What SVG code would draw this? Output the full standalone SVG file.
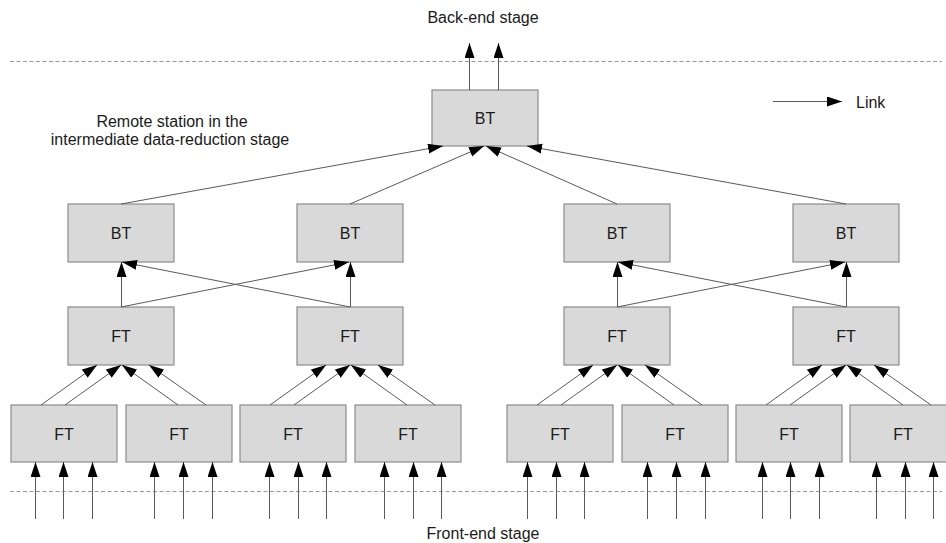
<svg xmlns="http://www.w3.org/2000/svg" width="946" height="543" viewBox="0 0 946 543">
  <style>
    .box { fill: #d9d9d9; stroke: #8c8c8c; stroke-width: 1.2; }
    .lbl { font-family: "Liberation Sans", Arial, sans-serif; font-size: 16px; fill: #1a1a1a; text-anchor: middle; }
    .txt { font-family: "Liberation Sans", Arial, sans-serif; font-size: 16px; fill: #1a1a1a; }
    .link { stroke: #5a5a5a; stroke-width: 1; fill: none; marker-end: url(#head); }
    .stage { stroke: #9a9a9a; stroke-width: 1; stroke-dasharray: 4 2.5; fill: none; }
  </style>
  <defs>
    <marker id="head" markerUnits="userSpaceOnUse" markerWidth="16" markerHeight="11" refX="15" refY="5" orient="auto">
      <path d="M0,0 L15,5 L0,10 z" fill="#000"/>
    </marker>
  </defs>
  <rect width="946" height="543" fill="#fff"/>

  <!-- stage boundaries -->
  <line class="stage" x1="10" y1="61.5" x2="942" y2="61.5"/>
  <line class="stage" x1="10" y1="491.5" x2="942" y2="491.5"/>

  <text class="lbl" x="483" y="23">Back-end stage</text>
  <text class="lbl" x="483" y="539">Front-end stage</text>
  <text class="lbl" x="172" y="127">Remote station in the</text>
  <text class="lbl" x="170" y="145">intermediate data-reduction stage</text>

  <!-- legend -->
  <g id="legend">
    <line class="link" x1="773" y1="101.5" x2="842" y2="101.5"/>
    <text class="txt" x="856" y="108">Link</text>
  </g>

  <!-- back-end root -->
  <g id="bt-root"><rect class="box" x="432" y="90" width="106" height="56"/><text class="lbl" x="485" y="124">BT</text></g>

  <!-- intermediate BT row -->
  <g id="bt-1"><rect class="box" x="68" y="204" width="106" height="58"/><text class="lbl" x="121" y="239">BT</text></g>
  <g id="bt-2"><rect class="box" x="297" y="204" width="106" height="58"/><text class="lbl" x="350" y="239">BT</text></g>
  <g id="bt-3"><rect class="box" x="564" y="204" width="106" height="58"/><text class="lbl" x="617" y="239">BT</text></g>
  <g id="bt-4"><rect class="box" x="793" y="204" width="106" height="58"/><text class="lbl" x="846" y="239">BT</text></g>

  <!-- intermediate FT row -->
  <g id="ft-a"><rect class="box" x="68" y="307" width="106" height="58"/><text class="lbl" x="121" y="342">FT</text></g>
  <g id="ft-b"><rect class="box" x="297" y="307" width="106" height="58"/><text class="lbl" x="350" y="342">FT</text></g>
  <g id="ft-c"><rect class="box" x="564" y="307" width="106" height="58"/><text class="lbl" x="617" y="342">FT</text></g>
  <g id="ft-d"><rect class="box" x="793" y="307" width="106" height="58"/><text class="lbl" x="846" y="342">FT</text></g>

  <!-- front-end FT row -->
  <g id="ft-1"><rect class="box" x="11" y="405" width="106" height="57"/><text class="lbl" x="64" y="440">FT</text></g>
  <g id="ft-2"><rect class="box" x="126" y="405" width="106" height="57"/><text class="lbl" x="179" y="440">FT</text></g>
  <g id="ft-3"><rect class="box" x="240" y="405" width="106" height="57"/><text class="lbl" x="293" y="440">FT</text></g>
  <g id="ft-4"><rect class="box" x="355" y="405" width="106" height="57"/><text class="lbl" x="408" y="440">FT</text></g>
  <g id="ft-5"><rect class="box" x="507" y="405" width="106" height="57"/><text class="lbl" x="560" y="440">FT</text></g>
  <g id="ft-6"><rect class="box" x="622" y="405" width="106" height="57"/><text class="lbl" x="675" y="440">FT</text></g>
  <g id="ft-7"><rect class="box" x="736" y="405" width="106" height="57"/><text class="lbl" x="789" y="440">FT</text></g>
  <g id="ft-8"><rect class="box" x="850" y="405" width="106" height="57"/><text class="lbl" x="903" y="440">FT</text></g>

  <g id="connectors">
    <!-- outputs of the root -->
    <line class="link" x1="469.5" y1="90" x2="469.5" y2="43"/>
    <line class="link" x1="498.5" y1="90" x2="498.5" y2="43"/>

    <!-- BT row to root -->
    <line class="link" x1="121" y1="204" x2="443" y2="146"/>
    <line class="link" x1="350" y1="204" x2="484" y2="146"/>
    <line class="link" x1="617" y1="204" x2="486" y2="146"/>
    <line class="link" x1="846" y1="204" x2="527" y2="146"/>

    <!-- FT row to BT row -->
    <line class="link" x1="121.5" y1="307" x2="121.5" y2="262"/>
    <line class="link" x1="121" y1="307" x2="349" y2="262"/>
    <line class="link" x1="350.5" y1="307" x2="350.5" y2="262"/>
    <line class="link" x1="350" y1="307" x2="122" y2="262"/>
    <line class="link" x1="617.5" y1="307" x2="617.5" y2="262"/>
    <line class="link" x1="617" y1="307" x2="845" y2="262"/>
    <line class="link" x1="846.5" y1="307" x2="846.5" y2="262"/>
    <line class="link" x1="846" y1="307" x2="618" y2="262"/>

    <!-- front-end FTs to FT row -->
    <line class="link" x1="41" y1="405" x2="97" y2="365"/>
    <line class="link" x1="65" y1="405" x2="121" y2="365"/>
    <line class="link" x1="178" y1="405" x2="122" y2="365"/>
    <line class="link" x1="206" y1="405" x2="149" y2="365"/>

    <line class="link" x1="270" y1="405" x2="326" y2="365"/>
    <line class="link" x1="294" y1="405" x2="350" y2="365"/>
    <line class="link" x1="407" y1="405" x2="351" y2="365"/>
    <line class="link" x1="435" y1="405" x2="378" y2="365"/>

    <line class="link" x1="537" y1="405" x2="593" y2="365"/>
    <line class="link" x1="561" y1="405" x2="617" y2="365"/>
    <line class="link" x1="674" y1="405" x2="618" y2="365"/>
    <line class="link" x1="702" y1="405" x2="645" y2="365"/>

    <line class="link" x1="766" y1="405" x2="822" y2="365"/>
    <line class="link" x1="790" y1="405" x2="846" y2="365"/>
    <line class="link" x1="903" y1="405" x2="847" y2="365"/>
    <line class="link" x1="931" y1="405" x2="874" y2="365"/>

    <!-- inputs from the front end -->
    <path class="link" d="M35.5,519 V462"/><path class="link" d="M63.5,519 V462"/><path class="link" d="M92.5,519 V462"/>
    <path class="link" d="M154.5,519 V462"/><path class="link" d="M183.5,519 V462"/><path class="link" d="M212.5,519 V462"/>
    <path class="link" d="M269.5,519 V462"/><path class="link" d="M298.5,519 V462"/><path class="link" d="M326.5,519 V462"/>
    <path class="link" d="M384.5,519 V462"/><path class="link" d="M413.5,519 V462"/><path class="link" d="M441.5,519 V462"/>
    <path class="link" d="M527.5,519 V462"/><path class="link" d="M556.5,519 V462"/><path class="link" d="M584.5,519 V462"/>
    <path class="link" d="M647.5,519 V462"/><path class="link" d="M676.5,519 V462"/><path class="link" d="M705.5,519 V462"/>
    <path class="link" d="M762.5,519 V462"/><path class="link" d="M790.5,519 V462"/><path class="link" d="M819.5,519 V462"/>
    <path class="link" d="M876.5,519 V462"/><path class="link" d="M905.5,519 V462"/><path class="link" d="M933.5,519 V462"/>
  </g>
</svg>
